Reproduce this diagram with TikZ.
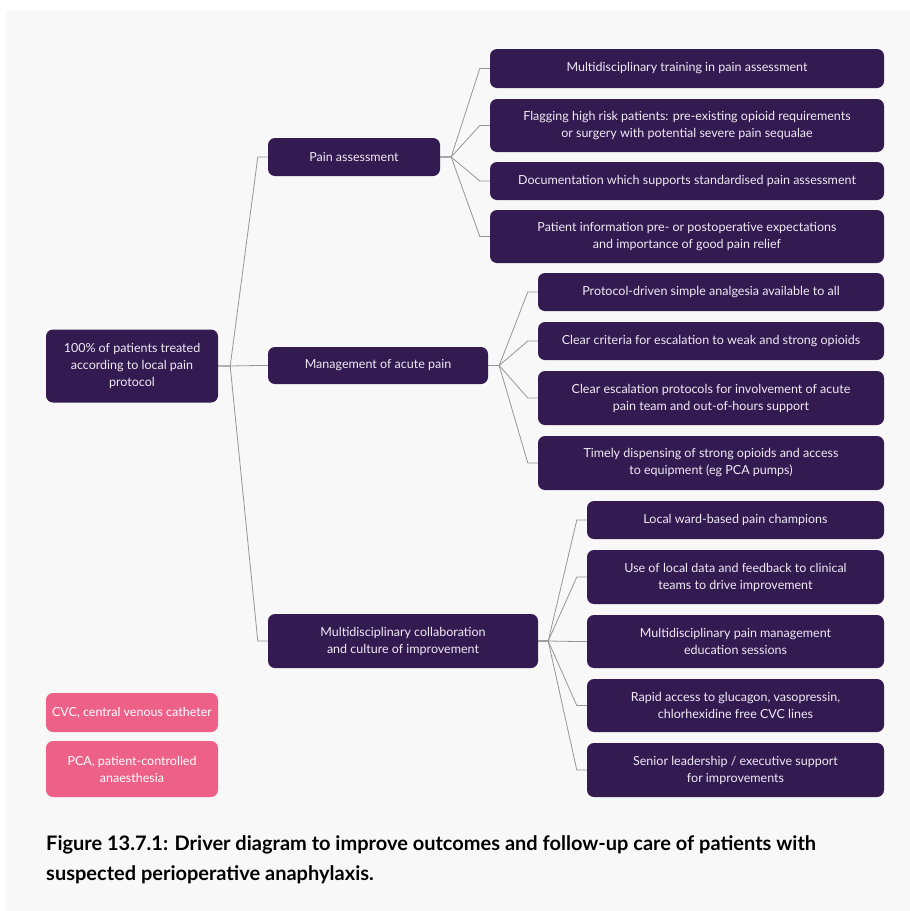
\documentclass[tikz,border=0pt]{standalone}
\usepackage{fontspec}
\setmainfont{Lato}
\usetikzlibrary{positioning,calc}

\definecolor{driverpurple}{RGB}{51,26,80}
\definecolor{keypink}{RGB}{237,97,137}
\definecolor{panelgray}{RGB}{248,248,248}
\definecolor{linkgray}{RGB}{150,150,150}
\definecolor{boxtext}{RGB}{240,234,245}

\begin{document}
\begin{tikzpicture}[x=1pt, y=-1pt,
    every node/.style={font=\fontsize{12.5}{17}\selectfont},
    box/.style={fill=driverpurple, text=boxtext, rounded corners=7pt, align=center, inner sep=0pt},
    keybox/.style={fill=keypink, text=white, rounded corners=7pt, align=center, inner sep=0pt},
    link/.style={draw=linkgray, line width=0.8pt}]
  \useasboundingbox (0,0) rectangle (910,911);
  \fill[white] (0,0) rectangle (910,911);
  \fill[panelgray] (6,11) rectangle (910,911);

  % Aim (left)
  \node[box, minimum width=172, minimum height=73] (root) at (132,366)
    {100\% of patients treated\\according to local pain\\protocol};

  % Primary drivers
  \node[box, minimum width=172, minimum height=38] (pain) at (354,157) {Pain assessment};
  \node[box, minimum width=220, minimum height=37] (mgmt) at (378,365.5) {Management of acute pain};
  \node[box, minimum width=270, minimum height=54] (collab) at (403,641)
    {Multidisciplinary collaboration\\and culture of improvement};

  % Secondary drivers: pain assessment
  \node[box, minimum width=394, minimum height=39] (pa1) at (687,68.5)
    {Multidisciplinary training in pain assessment};
  \node[box, minimum width=394, minimum height=53] (pa2) at (687,125.5)
    {Flagging high risk patients: pre-existing opioid requirements\\or surgery with potential severe pain sequalae};
  \node[box, minimum width=394, minimum height=38] (pa3) at (687,181)
    {Documentation which supports standardised pain assessment};
  \node[box, minimum width=394, minimum height=53] (pa4) at (687,236.5)
    {Patient information pre- or postoperative expectations\\and importance of good pain relief};

  % Secondary drivers: management of acute pain
  \node[box, minimum width=346, minimum height=38] (ma1) at (711,292)
    {Protocol-driven simple analgesia available to all};
  \node[box, minimum width=346, minimum height=38] (ma2) at (711,341)
    {Clear criteria for escalation to weak and strong opioids};
  \node[box, minimum width=346, minimum height=54] (ma3) at (711,398)
    {Clear escalation protocols for involvement of acute\\pain team and out-of-hours support};
  \node[box, minimum width=346, minimum height=54] (ma4) at (711,463)
    {Timely dispensing of strong opioids and access\\to equipment (eg PCA pumps)};

  % Secondary drivers: collaboration
  \node[box, minimum width=297, minimum height=38] (mc1) at (735.5,520)
    {Local ward-based pain champions};
  \node[box, minimum width=297, minimum height=54] (mc2) at (735.5,577)
    {Use of local data and feedback to clinical\\teams to drive improvement};
  \node[box, minimum width=297, minimum height=53] (mc3) at (735.5,641.5)
    {Multidisciplinary pain management\\education sessions};
  \node[box, minimum width=297, minimum height=53] (mc4) at (735.5,705.5)
    {Rapid access to glucagon, vasopressin,\\chlorhexidine free CVC lines};
  \node[box, minimum width=297, minimum height=54] (mc5) at (735.5,770)
    {Senior leadership / executive support\\for improvements};

  % Key
  \node[keybox, minimum width=172, minimum height=39] (cvc) at (132,712.5)
    {CVC, central venous catheter};
  \node[keybox, minimum width=172, minimum height=56] (pca) at (132,769)
    {PCA, patient-controlled\\anaesthesia};

  % Connectors
  \foreach \drv in {pain,mgmt,collab}
    \draw[link] (root.east) -- ++(12,0) -- ([xshift=-10pt]\drv.west) -- (\drv.west);
  \foreach \leaf in {pa1,pa2,pa3,pa4}
    \draw[link] (pain.east) -- ++(11,0) -- ([xshift=-10pt]\leaf.west) -- (\leaf.west);
  \foreach \leaf in {ma1,ma2,ma3,ma4}
    \draw[link] (mgmt.east) -- ++(11,0) -- ([xshift=-10pt]\leaf.west) -- (\leaf.west);
  \foreach \leaf in {mc1,mc2,mc3,mc4,mc5}
    \draw[link] (collab.east) -- ++(10,0) -- ([xshift=-10pt]\leaf.west) -- (\leaf.west);

  % Caption
  \node[anchor=north west, align=left, inner sep=0pt,
        font=\fontsize{20}{30}\selectfont\bfseries] (caption) at (46,835)
    {Figure 13.7.1: Driver diagram to improve outcomes and follow-up care of patients with\\
     suspected perioperative anaphylaxis.};
\end{tikzpicture}
\end{document}
